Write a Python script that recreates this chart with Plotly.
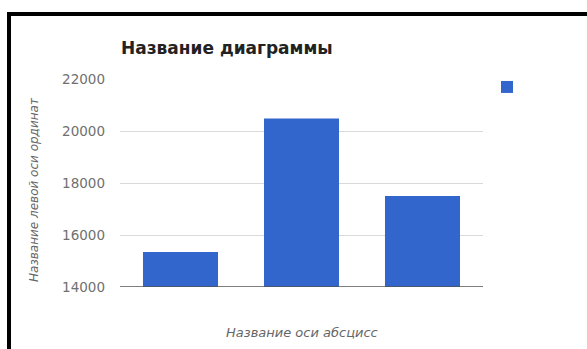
import plotly.graph_objects as go

# values
categories = ["A", "B", "C"]
values = [15350, 20480, 17500]
y_ticks = [14000, 16000, 18000, 20000, 22000]

chart_title = "Название диаграммы"
x_title = "Название оси абсцисс"
y_title = "Название левой оси ординат"
page_text = "График, вертикальная гистограмма (группировка руды)"

W, H = 587, 349
L, R, T, B = 120, 104, 79, 62
pw, ph = W - L - R, H - T - B
FONT = "DejaVu Sans, Arial, sans-serif"


def px(x):
    return (x - L) / pw


def py(y):
    return (H - B - y) / ph


fig = go.Figure()
fig.add_trace(go.Bar(
    x=categories, y=values, name=" ",
    marker=dict(color="#3366CC", line=dict(width=0)),
    showlegend=True,
))

fig.update_layout(
    width=W, height=H,
    margin=dict(l=L, r=R, t=T, b=B),
    plot_bgcolor="white", paper_bgcolor="white",
    font=dict(family=FONT),
    bargap=0.38,
    showlegend=True,
    legend=dict(x=px(487), y=py(72), xanchor="left", yanchor="top",
                font=dict(size=13, color="#222222"), bgcolor="rgba(0,0,0,0)",
                itemwidth=30),
    xaxis=dict(showticklabels=False, showgrid=False, zeroline=False,
               showline=False, ticks=""),
    yaxis=dict(range=[14000, 22000], tickvals=y_ticks, tickformat="d",
               tickfont=dict(size=13.5, color="#707070"),
               ticklabelstandoff=14,
               showgrid=True, gridcolor="#d9d9d9", gridwidth=1,
               zeroline=False, showline=False, ticks="", ticklen=0),
)

# axis titles and chart title as annotations (exact placement)
fig.add_annotation(text="<b>" + chart_title + "</b>", xref="paper", yref="paper",
                   x=px(119), y=py(48), xanchor="left", yanchor="middle",
                   showarrow=False, font=dict(size=17, color="#222222"))
fig.add_annotation(text="<i>" + x_title + "</i>", xref="paper", yref="paper",
                   x=0.5, y=py(332), xanchor="center", yanchor="middle",
                   showarrow=False, font=dict(size=13, color="#666666"))
fig.add_annotation(text="<i>" + y_title + "</i>", xref="paper", yref="paper",
                   x=px(34), y=py(190), xanchor="center", yanchor="middle",
                   textangle=-90, showarrow=False,
                   font=dict(size=12, color="#666666"))

# cut-off line of document text above the frame
fig.add_annotation(text=page_text, xref="paper", yref="paper",
                   x=px(4), y=py(-21), xanchor="left", yanchor="middle",
                   showarrow=False,
                   font=dict(family="Liberation Serif, Times New Roman, serif",
                             size=24, color="black"))

# baseline at 14000
fig.add_shape(type="line", xref="paper", yref="y", x0=0, x1=1, y0=14000, y1=14000,
              line=dict(color="#555555", width=1.5))

# black frame of the screenshot (top and left edges)
fig.add_shape(type="rect", xref="paper", yref="paper",
              x0=px(7), x1=px(600), y0=py(16), y1=py(12),
              fillcolor="black", line=dict(width=0), layer="above")
fig.add_shape(type="rect", xref="paper", yref="paper",
              x0=px(7), x1=px(11), y0=py(360), y1=py(12),
              fillcolor="black", line=dict(width=0), layer="above")

fig.write_html("out.html", config={"displayModeBar": False},
               post_script="document.body.style.margin='0';document.body.style.overflow='hidden';")
